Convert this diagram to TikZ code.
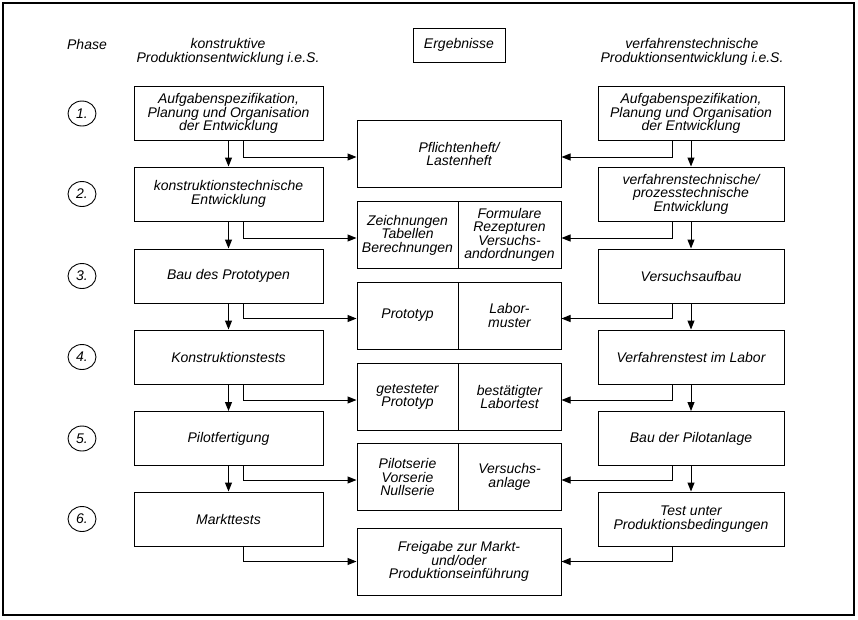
\documentclass[tikz,border=0pt]{standalone}
\usepackage{fontspec}
\setmainfont{Liberation Sans}
\usetikzlibrary{arrows.meta,shapes.geometric}
\tikzset{
  stepbox/.style={draw, line width=1pt, align=center, inner sep=2pt},
  sidebox/.style={stepbox, minimum width=189pt, minimum height=54pt},
  rightbox/.style={stepbox, minimum width=186pt, minimum height=54pt},
  resbox/.style={stepbox, minimum width=204pt, minimum height=67pt},
  halfbox/.style={stepbox, minimum height=67pt},
  phasenr/.style={draw, ellipse, line width=0.9pt, minimum width=28pt, minimum height=25pt, inner sep=0pt},
  arr/.style={line width=1pt, -{Triangle[length=9pt,width=7pt]}}
}
\begin{document}
\begin{tikzpicture}[x=1pt, y=-1pt,
  every node/.style={font=\fontsize{14}{13.4}\selectfont\itshape}]
  \useasboundingbox (0,0) rectangle (858,619);
  \draw[line width=1.2pt] (3,3) rectangle (854,615);

  \node[anchor=base] (phase) at (87,49) {Phase};
  \node[align=center] (hdl) at (228,52) {konstruktive\\Produktionsentwicklung i.e.S.};
  \node[stepbox, minimum width=92pt, minimum height=34pt] (erg) at (459,45) {Ergebnisse};
  \node[align=center] (hdr) at (692,52) {verfahrenstechnische\\Produktionsentwicklung i.e.S.};

  \node[sidebox] (l1) at (228.5,113.5) {Aufgabenspezifikation,\\Planung und Organisation\\der Entwicklung};
  \node[sidebox] (l2) at (228.5,194) {konstruktionstechnische\\Entwicklung};
  \node[sidebox] (l3) at (228.5,276) {Bau des Prototypen};
  \node[sidebox] (l4) at (228.5,357) {Konstruktionstests};
  \node[sidebox] (l5) at (228.5,438.5) {Pilotfertigung};
  \node[sidebox] (l6) at (228.5,519) {Markttests};

  \node[rightbox] (r1) at (691,113.5) {Aufgabenspezifikation,\\Planung und Organisation\\der Entwicklung};
  \node[rightbox] (r2) at (691,194) {verfahrenstechnische/\\prozesstechnische\\Entwicklung};
  \node[rightbox] (r3) at (691,276) {Versuchsaufbau};
  \node[rightbox] (r4) at (691,357) {Verfahrenstest im Labor};
  \node[rightbox] (r5) at (691,438.5) {Bau der Pilotanlage};
  \node[rightbox] (r6) at (691,519) {Test unter\\Produktionsbedingungen};

  \node[resbox] (m1) at (459,154) {Pflichtenheft/\\Lastenheft};
  \node[halfbox, minimum width=101pt] (m2l) at (407.5,235) {Zeichnungen\\Tabellen\\Berechnungen};
  \node[halfbox, minimum width=103pt] (m2r) at (509.5,235) {Formulare\\Rezepturen\\Versuchs-\\andordnungen};
  \node[halfbox, minimum width=101pt] (m3l) at (407.5,315.5) {Prototyp};
  \node[halfbox, minimum width=103pt] (m3r) at (509.5,315.5) {Labor-\\muster};
  \node[halfbox, minimum width=101pt] (m4l) at (407.5,397) {getesteter\\Prototyp};
  \node[halfbox, minimum width=103pt] (m4r) at (509.5,397) {bestätigter\\Labortest};
  \node[halfbox, minimum width=101pt] (m5l) at (407.5,477) {Pilotserie\\Vorserie\\Nullserie};
  \node[halfbox, minimum width=103pt] (m5r) at (509.5,477) {Versuchs-\\anlage};
  \node[resbox] (m6) at (459,561.5) {Freigabe zur Markt-\\und/oder\\Produktionseinführung};

  \foreach \n/\y in {1/113.5, 2/194, 3/276, 4/357, 5/438.5, 6/519}
    \node[phasenr] (p\n) at (82,\y) {\n.};

  \foreach \a/\b in {1/2, 2/3, 3/4, 4/5, 5/6} {
    \draw[arr] (l\a) -- (l\b);
    \draw[arr] (r\a) -- (r\b);
  }

  \draw[arr] ([xshift=14.5pt]l1.south) |- ([yshift=-3pt]m1.west);
  \draw[arr] ([xshift=14.5pt]l2.south) |- ([yshift=-3pt]m2l.west);
  \draw[arr] ([xshift=14.5pt]l3.south) |- ([yshift=-3pt]m3l.west);
  \draw[arr] ([xshift=14.5pt]l4.south) |- ([yshift=-3pt]m4l.west);
  \draw[arr] ([xshift=14.5pt]l5.south) |- ([yshift=-3pt]m5l.west);
  \draw[arr] ([xshift=14.5pt]l6.south) |- (m6.west);

  \draw[arr] ([xshift=-19pt]r1.south) |- ([yshift=-3pt]m1.east);
  \draw[arr] ([xshift=-19pt]r2.south) |- ([yshift=-3pt]m2r.east);
  \draw[arr] ([xshift=-19pt]r3.south) |- ([yshift=-3pt]m3r.east);
  \draw[arr] ([xshift=-19pt]r4.south) |- ([yshift=-3pt]m4r.east);
  \draw[arr] ([xshift=-19pt]r5.south) |- ([yshift=-3pt]m5r.east);
  \draw[arr] ([xshift=-19pt]r6.south) |- (m6.east);

\end{tikzpicture}
\end{document}
